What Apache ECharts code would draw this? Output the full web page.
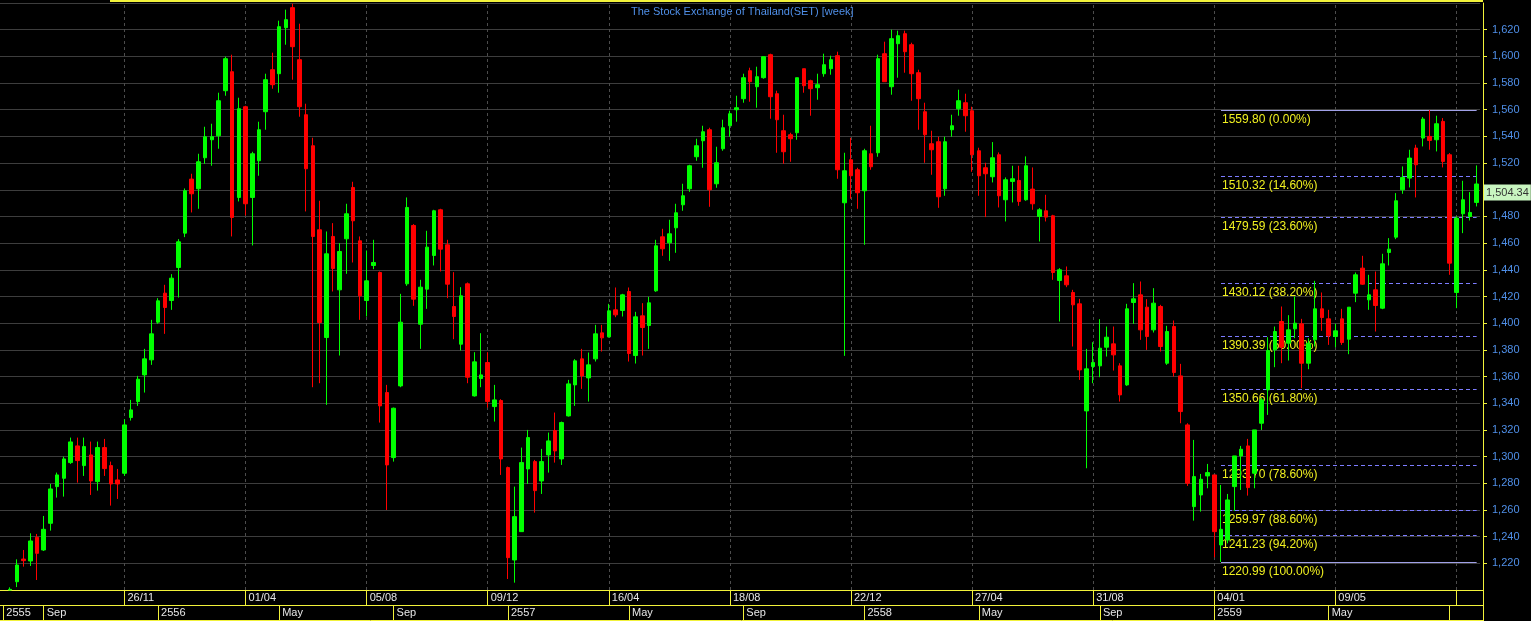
<!DOCTYPE html>
<html>
<head>
<meta charset="utf-8">
<script src="https://cdn.jsdelivr.net/npm/echarts@6/dist/echarts.min.js"></script>
<style>
  html, body { margin: 0; padding: 0; background: #000; }
  #chart { width: 1531px; height: 621px; }
</style>
</head>
<body>
<div id="chart"></div>
<script>
// ---- data (weekly SET index) ----
const firstWeek = '2012-07-23';
const open = [
null,1200,1206.2,1223.2,1221.75,1239.5,1230,1250,1277.5,1283.75,
1295.5,1308,1293.25,1301.25,1281.25,1306.75,1293.25,1282.5,1287.5,1329.25,
1341.25,1361.25,1372.5,1400.75,1422.5,1417,1441.75,1467.5,1508,1500.75,
1524,1537.5,1540.5,1574.25,1588.5,1494.25,1562.25,1494.25,1521.75,1558.5,
1590,1587,1621.5,1636.5,1597.5,1556.25,1533,1470,1389.25,1465,
1425,1463.25,1501.75,1461.75,1417,1443.25,1438,1348,1299.25,1353,
1429.5,1473.25,1399.25,1425.5,1450.75,1485,1458.75,1412.5,1384.25,1429.5,
1345.5,1358.5,1370.5,1337.5,1342,1291.75,1222.5,1243.75,1290.75,1296.25,
1281.75,1301.25,1319.5,1298.25,1330.5,1353.75,1373.25,1359,1373.25,1392.75,
1389.75,1410,1409.5,1423.75,1375.75,1405.5,1398.25,1424.25,1464.75,1460.25,
1471.5,1488.75,1500.75,1524.75,1536.75,1545,1504.5,1530.75,1548,1560,
1568.25,1589.25,1577.25,1584,1601.25,1572,1544.25,1541.25,1542.75,1590.75,
1581.75,1576.5,1587,1590.75,1600.5,1490.25,1522.5,1515,1499.25,1527,
1527.75,1602,1577.25,1609.5,1617,1608.75,1587.75,1558.5,1534.5,1536,
1500.75,1545,1560.75,1565.25,1559.25,1529.25,1516.5,1509.75,1526.25,1492.5,
1506.25,1507,1492.5,1500.5,1480,1484.25,1480.5,1432,1435.5,1423,
1414.5,1334.25,1367.5,1368,1382,1384.5,1368,1353.75,1415.5,1421.25,
1412,1395,1412.5,1370,1397.5,1360.5,1323.75,1262.5,1271.25,1285.5,
1286.25,1233.75,1237.5,1277.5,1300.5,1308,1287.5,1325,1350,1380,
1401.25,1385,1395.75,1399.5,1370,1387.5,1410.75,1403.25,1390,1403.25,
1388,1422.5,1441.25,1417.5,1425,1411.25,1453,1464.5,1500,1508.75,
1531.25,1538.75,1540,1537.5,1551.25,1526.25,1423,1482,1480,1490.5
];
const close = [
null,1200.5,1218.75,1222,1236.75,1227.5,1245.5,1275.75,1286.25,1298.25,
1311,1297,1307.5,1281.75,1306.75,1291,1279.5,1279.5,1323.75,1335,
1358,1373.25,1392,1416.75,1411.75,1433.75,1461,1499.25,1497,1521,
1539.75,1539.75,1566.75,1598.25,1479.25,1560.75,1489.5,1527,1545,1582.5,
1578.75,1622.25,1627.5,1607.25,1562.25,1515.75,1465,1400.5,1452,1441,
1453.75,1482,1476.75,1420.5,1431.75,1445.5,1338,1293.75,1336.25,1400.75,
1486.75,1418,1427,1457,1484.25,1455.5,1429.25,1405,1420.5,1359.5,
1371,1361.25,1341.25,1342.5,1298.25,1224.25,1255,1295.5,1314.25,1274.5,
1296.25,1311.75,1304.25,1325.5,1354.5,1371.75,1360.5,1368.75,1392,1389,
1409.25,1406.25,1421.25,1377.25,1404.75,1396.75,1415.25,1458,1455.75,1467,
1482.75,1495.5,1518,1533,1543.5,1500,1520.25,1546.5,1557,1561.5,
1584,1581,1584.75,1599.75,1569.75,1552.5,1528.5,1538.25,1584,1578,
1575.75,1578.75,1593.75,1597.5,1515,1514.25,1510.5,1497.75,1529.25,1517.25,
1598.25,1581,1613.25,1615.5,1603.5,1587,1568.25,1541.25,1530,1494.75,
1536,1548,1566.75,1555.5,1526.25,1510.5,1512,1524,1495.5,1507.5,
1508.25,1491.25,1518,1489.5,1485,1479.5,1438,1440,1428.75,1413.75,
1365,1365.75,1370.5,1381.25,1389.5,1376.25,1346.25,1410.75,1418.25,1395,
1390,1415,1382.5,1393.75,1363,1333.75,1280,1285,1283,1288,
1243.75,1245.5,1267.5,1300.5,1305.5,1276.75,1320,1342.5,1379.5,1393.75,
1382,1395,1400,1370,1385,1410.75,1404.25,1390.5,1394.25,1385.5,
1412,1436.25,1429.25,1421.25,1413.25,1444.5,1455.5,1491.75,1509.25,1523.75,
1518.75,1553,1537,1549.5,1521.25,1445,1478.75,1492.5,1483,1504.34
];
const low = [
null,1200,1202.2,1217.5,1218,1207.5,1229.25,1244.5,1269.25,1270,
1294.5,1280.5,1285.5,1271.25,1274.5,1285.5,1263.25,1268.25,1285.5,1327,
1338,1348,1368.75,1399.5,1392,1410,1419.25,1464.5,1483,1485.75,
1519.5,1518,1530.75,1570.5,1465,1491.25,1480.75,1458.25,1510.5,1545,
1575.75,1572.75,1608.75,1582.5,1554.75,1483.75,1352,1355,1338.75,1423.75,
1375.75,1437,1445.5,1402.5,1405,1440.5,1325.5,1260,1296.25,1352,
1428,1413,1380.75,1410.75,1443.25,1438.75,1418.75,1388,1379.5,1355,
1345,1352,1336.75,1326.25,1286.25,1208.25,1205.5,1243.75,1279.5,1258,
1272,1288,1295.5,1293.75,1330,1338,1350.75,1341.25,1371.25,1378.75,
1389.25,1404.5,1405,1371.25,1369.75,1375.75,1380.75,1423.5,1450.5,1446.75,
1452.75,1484.25,1498.5,1521.75,1516.5,1487.25,1501.5,1529.25,1539.75,1551,
1565.25,1566,1561.5,1583.25,1553.25,1527.75,1519.5,1521,1537.5,1572.75,
1555.5,1567.5,1584.75,1586.25,1508.25,1375.5,1493.25,1485.75,1458.75,1515,
1524.75,1581,1571.25,1584,1587.75,1566.75,1545,1520.25,1511.25,1486.5,
1495.5,1539.75,1555.5,1543.5,1513.5,1495.5,1479.5,1505.5,1486.75,1476.25,
1490.5,1488,1491.75,1485,1461.25,1476.25,1432.5,1401.25,1427,1382.5,
1357.5,1291.25,1355,1359.5,1375,1364.5,1341.25,1353,1399.5,1387.5,
1380,1393,1378.75,1368.75,1360,1325,1278,1252,1258.75,1276.25,
1224.5,1220.99,1235,1259.25,1275,1270.75,1276.25,1320,1331.25,1367,
1370,1372,1388.75,1351.25,1365.5,1382.5,1394.25,1383.75,1382,1383.75,
1376.75,1415.75,1428.75,1410,1393.75,1410.5,1443.25,1463,1497,1501.75,
1494.25,1532.5,1530,1528.75,1516.75,1436.25,1411.25,1467.5,1477,1487.5
];
const high = [
null,1202,1223,1230,1242.5,1242,1255.5,1279.5,1288,1300,
1314.25,1314.25,1314.25,1311.25,1311.25,1313.25,1296.25,1290.75,1328,1342.5,
1360.5,1380.75,1402.5,1418.75,1428.75,1436.75,1463,1501,1512,1527,
1547.25,1549.5,1572.75,1599.75,1601.25,1569,1563,1528.5,1551,1587,
1602.75,1626.75,1635,1639.5,1624.5,1564.5,1539,1491.75,1468.75,1475,
1460,1489.5,1506,1465,1454.5,1462.5,1438.75,1353.75,1336.75,1422,
1494.25,1474.25,1432.5,1469.25,1485,1485.75,1462.5,1438.25,1427,1430.5,
1378.25,1392.5,1378.25,1353.75,1343,1292.5,1277.5,1306.75,1320,1297.5,
1305.75,1318,1333,1326.25,1357.5,1373,1380.75,1378,1398.75,1398.75,
1414.5,1426.75,1422,1426.75,1408.5,1415,1419.75,1462.5,1470.75,1477.5,
1489.5,1504.5,1518.75,1538.25,1548,1546.5,1532.25,1552.5,1559.25,1570.5,
1587,1591.5,1592.25,1599.75,1602,1574.25,1556.25,1542.75,1584,1590.75,
1582.5,1587,1602,1600.5,1603.5,1527.75,1539,1516.5,1530.75,1548,
1601.25,1611,1620,1619.25,1619.25,1610.25,1590,1565.25,1544.25,1539.75,
1539.75,1556.25,1575,1572,1562.25,1531.5,1520.25,1535.75,1528,1509.25,
1518,1518,1525,1516.75,1486.25,1496.25,1481.25,1441.25,1442.5,1425,
1418.25,1380.75,1385.75,1403,1397.5,1397.5,1370,1414.5,1430,1431.25,
1418,1426.25,1413.75,1398,1402,1369.5,1325,1312.5,1287,1294.5,
1286.25,1278.75,1272,1300.5,1308,1313.25,1320,1344,1389.5,1397.5,
1412.5,1406,1420,1403.25,1388.75,1431.75,1423,1410,1399.5,1410.75,
1412,1438,1450.5,1436.25,1438.75,1452,1463.75,1497.5,1517.5,1530,
1533.75,1554.5,1559.8,1555.5,1553.75,1527.5,1480,1506.75,1498.25,1518.25
];
// tick labels
const dateTickIdx    = [18, 36, 54, 72, 90, 108, 126, 144, 162, 180, 198, 216];
const dateTickLabels = ['26/11','01/04','05/08','09/12','16/04','18/08','22/12','27/04','31/08','04/01','09/05',''];
const periodTickIdx    = [0, 6, 23, 41, 58, 75, 93, 110, 128, 145, 163, 180, 197, 215];
const periodTickLabels = ['2555','Sep','2556','May','Sep','2557','May','Sep','2558','May','Sep','2559','May',''];
// fibonacci retracement levels
const fibValues = [1559.80, 1510.32, 1479.59, 1430.12, 1390.39, 1350.66, 1293.70, 1259.97, 1241.23, 1220.99];
const fibPct    = ['0.00%','14.60%','23.60%','38.20%','50.00%','61.80%','78.60%','88.60%','94.20%','100.00%'];
const fibStartIdx = 181;
const titleText = 'The Stock Exchange of Thailand(SET) [week]';

// ---- build ----
const categories = [];
(function(){
  const d0 = new Date(firstWeek + 'T00:00:00Z');
  for (let i = 0; i < open.length; i++) {
    const d = new Date(d0.getTime() + i * 7 * 86400000);
    categories.push(d.toISOString().slice(0,10));
  }
})();
const candles = open.map((o, i) => (o == null ? '-' : [o, close[i], low[i], high[i]]));
const lastIdx = open.length - 1;
const lastClose = close[lastIdx];

const YEL = '#f2f23a';
const FONT = "'Liberation Sans', Arial, sans-serif";
const fmtComma = (v, dec) => {
  const s = dec ? v.toFixed(dec) : String(v);
  const parts = s.split('.');
  parts[0] = parts[0].replace(/\B(?=(\d{3})+(?!\d))/g, ',');
  return parts.join('.');
};
const inSet = (arr) => (idx) => arr.indexOf(idx) >= 0;

const fibLines = fibValues.map((v, i) => {
  const solid = (i === 0 || i === fibValues.length - 1);
  return [
    { coord: [fibStartIdx, v], value: v, name: v.toFixed(2) + ' (' + fibPct[i] + ')',
      lineStyle: { color: solid ? '#a0a0e8' : '#7c7cff', width: 1, type: solid ? 'solid' : [4, 3] } },
    { coord: [lastIdx, v], value: v }
  ];
});

const chart = echarts.init(document.getElementById('chart'), null, { renderer: 'canvas' });
chart.setOption({
  backgroundColor: '#000000',
  animation: false,
  title: {
    text: titleText, left: 626, top: 1,
    textStyle: { color: '#4f8fe8', fontSize: 11, fontWeight: 'normal', fontFamily: FONT }
  },
  grid: { left: 0, right: 51, top: 3, bottom: 31, containLabel: false },
  xAxis: [
    {
      type: 'category', data: categories, boundaryGap: true,
      axisLine: { show: true, lineStyle: { color: YEL, width: 1 } },
      axisTick: { show: true, inside: true, length: 587, alignWithLabel: true,
                  interval: inSet(dateTickIdx), lineStyle: { color: '#4c4c4c', type: [3, 3], width: 1 } },
      axisLabel: { show: false }, splitLine: { show: false }
    },
    {
      type: 'category', data: categories, boundaryGap: true, position: 'bottom', offset: 0,
      axisLine: { show: false },
      axisTick: { show: true, length: 15, alignWithLabel: true, interval: inSet(dateTickIdx),
                  lineStyle: { color: YEL, width: 1 } },
      axisLabel: { show: true, interval: inSet(dateTickIdx), align: 'left', margin: 2,
                   padding: [0, 0, 0, 3], color: '#e6e6e6', fontSize: 11, fontFamily: FONT,
                   formatter: (v, idx) => { const k = dateTickIdx.indexOf(idx); return k >= 0 ? dateTickLabels[k] : ''; } },
      splitLine: { show: false }
    },
    {
      type: 'category', data: categories, boundaryGap: true, position: 'bottom', offset: 15,
      axisLine: { show: true, lineStyle: { color: YEL, width: 1 } },
      axisTick: { show: true, length: 15, alignWithLabel: true, interval: inSet(periodTickIdx),
                  lineStyle: { color: YEL, width: 1 } },
      axisLabel: { show: true, interval: inSet(periodTickIdx), align: 'left', margin: 2,
                   padding: [0, 0, 0, 3], color: '#e6e6e6', fontSize: 11, fontFamily: FONT,
                   formatter: (v, idx) => { const k = periodTickIdx.indexOf(idx); return k >= 0 ? periodTickLabels[k] : ''; } },
      splitLine: { show: false }
    }
  ],
  yAxis: {
    type: 'value', position: 'right', offset: 3, min: 1200, max: 1640, interval: 20, scale: true,
    axisLine: { show: true, lineStyle: { color: YEL, width: 1 } },
    axisTick: { show: true, length: 4, lineStyle: { color: YEL } },
    axisLabel: { color: '#4f8fe8', fontSize: 11, fontFamily: FONT, margin: 9,
                 showMinLabel: false, showMaxLabel: false, formatter: (v) => fmtComma(v) },
    splitLine: { show: true, lineStyle: { color: '#3d3d3d', width: 1 } }
  },
  series: [
    {
      type: 'line', data: [], xAxisIndex: 0, z: 1, silent: true,
      markLine: {
        z: 1, silent: true, symbol: ['none', 'none'], animation: false,
        label: { show: true, position: 'insideStartBottom', distance: 4, offset: [-3, 0], formatter: '{b}',
                 color: '#f0f020', fontSize: 12, fontFamily: FONT },
        emphasis: { disabled: true },
        data: fibLines
      }
    },
    {
      type: 'candlestick', data: candles, xAxisIndex: 0, z: 2, barWidth: 4, clip: true,
      itemStyle: { color: '#00ff00', color0: '#ff0000', borderColor: '#00ff00', borderColor0: '#ff0000', borderWidth: 1 },
      markLine: {
        z: 6, silent: true, symbol: ['none', 'none'], animation: false,
        lineStyle: { color: 'rgba(0,0,0,0)', width: 0 },
        label: { show: true, position: 'end', distance: 4, offset: [0, 8.5],
                 formatter: () => fmtComma(lastClose, 2),
                 backgroundColor: '#c8f5c0', color: '#333333', padding: [3, 2, 2, 2],
                 fontSize: 11, fontFamily: FONT },
        emphasis: { disabled: true },
        data: [{ yAxis: lastClose }]
      }
    }
  ],
  graphic: [
    { type: 'rect', silent: true, z: 10, shape: { x: 110, y: 0, width: 1373, height: 2 }, style: { fill: YEL } },
    { type: 'line', silent: true, shape: { x1: 1483.5, y1: 586, x2: 1483.5, y2: 621 }, style: { stroke: YEL, lineWidth: 1 } },
    { type: 'line', silent: true, shape: { x1: 0, y1: 605.5, x2: 1483, y2: 605.5 }, style: { stroke: YEL, lineWidth: 1 } },
    { type: 'line', silent: true, shape: { x1: 0, y1: 620.5, x2: 1483, y2: 620.5 }, style: { stroke: YEL, lineWidth: 1 } },
    { type: 'line', silent: true, shape: { x1: 0, y1: 590.5, x2: 1483, y2: 590.5 }, style: { stroke: YEL, lineWidth: 1 } }
  ]
});
</script>
</body>
</html>
